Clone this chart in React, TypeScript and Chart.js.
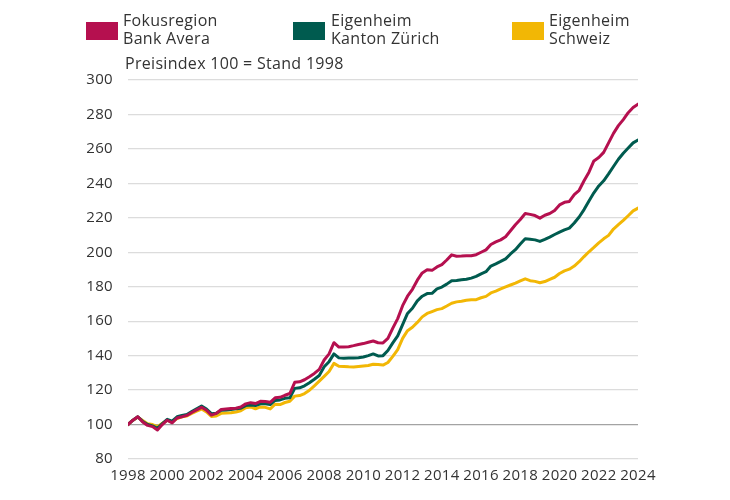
import React, { useEffect, useRef } from "react";
import { Chart, registerables } from "chart.js";

Chart.register(...registerables);

const quarters = [
  1998, 1998.25, 1998.5, 1998.75,
  1999, 1999.25, 1999.5, 1999.75,
  2000, 2000.25, 2000.5, 2000.75,
  2001, 2001.25, 2001.5, 2001.75,
  2002, 2002.25, 2002.5, 2002.75,
  2003, 2003.25, 2003.5, 2003.75,
  2004, 2004.25, 2004.5, 2004.75,
  2005, 2005.25, 2005.5, 2005.75,
  2006, 2006.25, 2006.5, 2006.75,
  2007, 2007.25, 2007.5, 2007.75,
  2008, 2008.25, 2008.5, 2008.75,
  2009, 2009.25, 2009.5, 2009.75,
  2010, 2010.25, 2010.5, 2010.75,
  2011, 2011.25, 2011.5, 2011.75,
  2012, 2012.25, 2012.5, 2012.75,
  2013, 2013.25, 2013.5, 2013.75,
  2014, 2014.25, 2014.5, 2014.75,
  2015, 2015.25, 2015.5, 2015.75,
  2016, 2016.25, 2016.5, 2016.75,
  2017, 2017.25, 2017.5, 2017.75,
  2018, 2018.25, 2018.5, 2018.75,
  2019, 2019.25, 2019.5, 2019.75,
  2020, 2020.25, 2020.5, 2020.75,
  2021, 2021.25, 2021.5, 2021.75,
  2022, 2022.25, 2022.5, 2022.75,
  2023, 2023.25, 2023.5, 2023.75,
  2024,
];

const fokusregion = [
  100, 102.5, 104.5, 101.5,
  99.5, 98.8, 96.8, 100,
  102.5, 101, 103.8, 104.5,
  105.3, 107, 108.5, 110,
  108.3, 105.5, 106.5, 108.7,
  109, 109.3, 109.5, 110.2,
  112, 112.7, 112.2, 113.5,
  113.4, 112.9, 115.5, 115.8,
  117, 118, 124.5, 124.8,
  126, 127.8, 129.7, 132,
  137.5, 141, 147.5, 145,
  145, 145.2, 145.8, 146.5,
  147, 147.8, 148.5, 147.5,
  147.4, 150, 156, 161.5,
  169, 174.5, 178.5, 183.8,
  188, 189.8, 189.5, 191.5,
  192.8, 195.5, 198.5, 197.7,
  197.8, 198, 198, 198.6,
  200, 201.4, 204.5, 206,
  207.2, 209, 212.5, 216,
  219, 222.5, 222, 221.3,
  219.8, 221.5, 222.5, 224.3,
  227.5, 229, 229.5, 233.5,
  236, 241.5, 246.5, 253,
  255, 258, 263.5, 269,
  273.5, 277, 281, 284,
  286,
];

const kantonZuerich = [
  100, 102.5, 104.5, 101.8,
  100, 99.2, 97.8, 100.5,
  103, 102, 104.5, 105.3,
  105.8, 107.5, 109.2, 110.8,
  109, 106.3, 106.5, 108.3,
  108.5, 108.8, 109.1, 109.5,
  111, 111.3, 111, 112,
  112, 111.6, 114, 114.3,
  115.2, 115.5, 121, 121.3,
  122.5, 124.3, 126.3, 128.5,
  133.5, 136.5, 141, 138.7,
  138.5, 138.6, 138.7, 138.8,
  139.2, 140, 141, 139.8,
  140, 143, 147.4, 151.5,
  158, 164.5, 167.5, 171.8,
  174.5, 176, 176.2, 178.8,
  179.8, 181.5, 183.5, 183.6,
  184, 184.3, 185, 186,
  187.5, 188.7, 192, 193.3,
  194.7, 196.2, 199, 201.5,
  204.8, 207.8, 207.5, 207.2,
  206.3, 207.5, 208.8, 210.3,
  211.7, 213, 214, 217,
  220.5, 224.8, 229.8, 234.5,
  238.5, 241.5, 245.5, 249.8,
  254, 257.5, 260.5, 263.5,
  265.2,
];

const schweiz = [
  100, 102.5, 104.3, 102.3,
  100.5, 100, 98.8, 100.8,
  102.5, 101.5, 103.5, 104.5,
  105, 106.5, 107.8, 109,
  107.3, 104.7, 105, 106.5,
  106.7, 106.8, 107.3, 108,
  109.8, 110.2, 109.1, 110.2,
  110, 109.1, 111.8, 111.6,
  112.8, 113.5, 116.5, 116.8,
  118, 119.9, 122.5, 125.2,
  128, 130.8, 135.5, 133.8,
  133.7, 133.5, 133.4, 133.7,
  134, 134.3, 135, 134.8,
  134.5, 136, 139.6, 143.5,
  150, 154.5, 156.5, 159.3,
  162.5, 164.5, 165.6, 166.7,
  167.3, 168.8, 170.4, 171.2,
  171.6, 172.1, 172.4, 172.5,
  173.6, 174.4, 176.4, 177.4,
  178.7, 179.9, 181, 182.1,
  183.4, 184.6, 183.5, 183.1,
  182.3, 183, 184.3, 185.5,
  187.7, 189.2, 190.2, 192,
  194.5, 197.5, 200.3, 202.8,
  205.5, 207.8, 209.8, 213.5,
  216, 218.5, 221.2, 224,
  225.6,
];

const seriesNames = [
  ["Fokusregion", "Bank Avera"],
  ["Eigenheim", "Kanton Zürich"],
  ["Eigenheim", "Schweiz"],
];
const seriesColors = ["#b5104f", "#005b4f", "#f2b705"];
const subtitle = "Preisindex 100 = Stand 1998";

const FONT = "'Open Sans', 'DejaVu Sans', sans-serif";
const TEXT = "#333333";

const legendPos = [
  { box: 86, text: 123 },
  { box: 293, text: 331 },
  { box: 512, text: 549 },
];

export default function App() {
  const canvasRef = useRef<HTMLCanvasElement | null>(null);

  useEffect(() => {
    document.body.style.margin = "0";
    const canvas = canvasRef.current;
    if (!canvas) return;
    const values = [fokusregion, kantonZuerich, schweiz];
    const chart = new Chart(canvas, {
      type: "line",
      data: {
        datasets: values.map((vals, i) => ({
          label: seriesNames[i].join(" "),
          data: quarters.map((q, j) => ({ x: q, y: vals[j] })),
          borderColor: seriesColors[i],
          backgroundColor: seriesColors[i],
          borderWidth: 3,
          borderJoinStyle: "round" as const,
          borderCapStyle: "round" as const,
          pointRadius: 0,
          tension: 0,
          fill: false,
        })),
      },
      options: {
        responsive: false,
        animation: false,
        layout: { padding: { left: 70, right: 92, top: 80, bottom: 0 } },
        plugins: {
          legend: { display: false },
          tooltip: { enabled: false },
        },
        scales: {
          x: {
            type: "linear",
            min: 1998,
            max: 2024,
            grid: { display: false, drawTicks: false },
            border: { display: false },
            afterFit: (s: any) => {
              s.height = 41;
            },
            ticks: {
              stepSize: 2,
              padding: 8,
              maxRotation: 0,
              autoSkip: false,
              color: TEXT,
              font: { family: FONT, size: 15 },
              callback: (v: any) => String(v),
            },
          },
          y: {
            min: 80,
            max: 300,
            afterFit: (s: any) => {
              s.width = 58;
            },
            grid: {
              drawTicks: false,
              lineWidth: 1.2,
              color: (ctx: any) =>
                ctx.tick && ctx.tick.value === 100 ? "#a3a3a3" : "#dcdcdc",
            },
            border: { display: false },
            ticks: {
              stepSize: 20,
              padding: 15,
              color: TEXT,
              font: { family: FONT, size: 15 },
            },
          },
        },
      },
    });
    return () => chart.destroy();
  }, []);

  return (
    <div
      style={{
        position: "relative",
        width: 730,
        height: 500,
        background: "#ffffff",
        fontFamily: FONT,
        color: TEXT,
        fontSize: 16,
        letterSpacing: "0.3px",
      }}
    >
      <canvas
        ref={canvasRef}
        width={730}
        height={500}
        style={{ position: "absolute", left: 0, top: 0 }}
      />
      {seriesNames.map((lines, i) => (
        <React.Fragment key={i}>
          <div
            style={{
              position: "absolute",
              left: legendPos[i].box,
              top: 22,
              width: 32,
              height: 18,
              background: seriesColors[i],
            }}
          />
          <div
            style={{
              position: "absolute",
              left: legendPos[i].text,
              top: 11,
              lineHeight: "18px",
              whiteSpace: "nowrap",
            }}
          >
            {lines[0]}
            <br />
            {lines[1]}
          </div>
        </React.Fragment>
      ))}
      <div
        style={{
          position: "absolute",
          left: 125,
          top: 53,
          lineHeight: "20px",
          whiteSpace: "nowrap",
        }}
      >
        {subtitle}
      </div>
    </div>
  );
}
